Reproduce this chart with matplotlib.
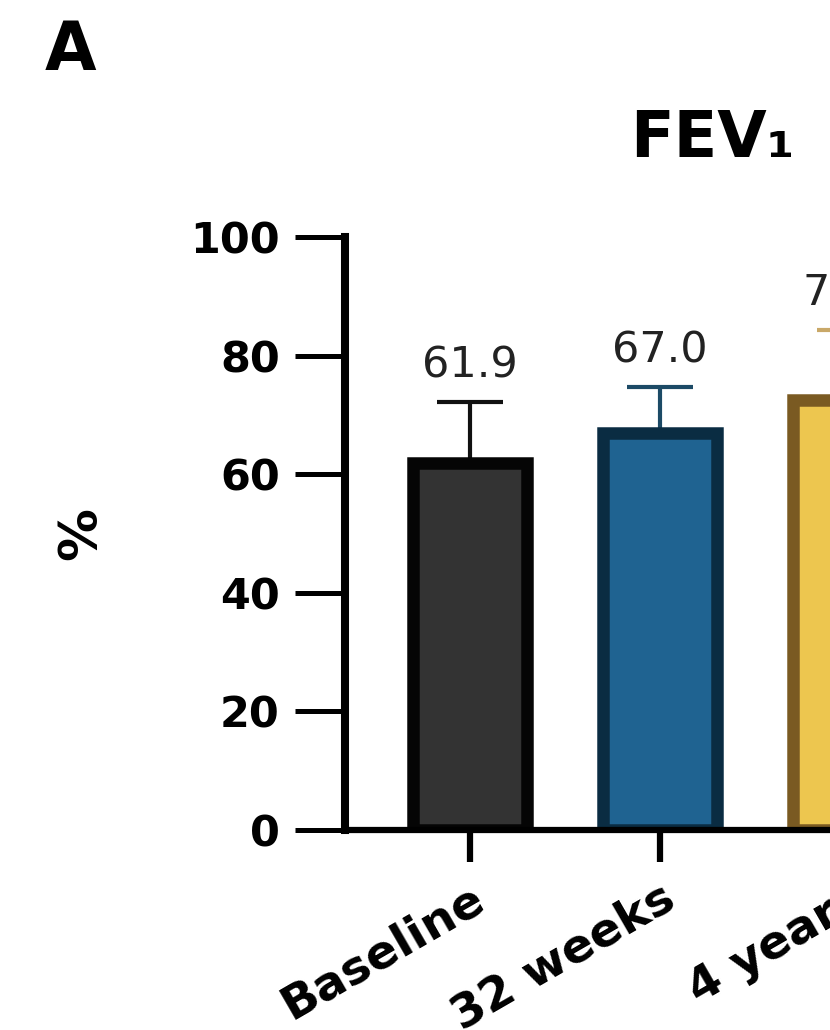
import matplotlib
matplotlib.use("Agg")
import matplotlib.pyplot as plt

plt.rcParams['font.family'] = ['DejaVu Sans']

# data
categories = ["Baseline", "32 weeks", "4 years"]
means = [61.9, 67.0, 72.5]
sd_upper = [10.3, 7.7, 11.8]
value_labels = ["61.9", "67.0", "72.5"]
yticks = [0, 20, 40, 60, 80, 100]

fills = ["#333333", "#1f6391", "#edc64f"]
edges = ["#050505", "#0a2c42", "#7a5a22"]
err_cols = ["#111111", "#1c4a66", "#c9a868"]

fig = plt.figure(figsize=(8.3, 10.3), dpi=100)
ax = fig.add_axes([345 / 830, 200 / 1030, 676 / 830, 593 / 1030])

x = list(range(len(categories)))
for i in x:
    ax.errorbar(i, means[i], yerr=[[0], [sd_upper[i]]], fmt="none",
                ecolor=err_cols[i], elinewidth=3, capsize=24, capthick=3, zorder=1)
    ax.bar(i, means[i], width=0.6, color=fills[i], edgecolor=edges[i],
           linewidth=9, zorder=2)
    ax.annotate(value_labels[i], (i, means[i] + sd_upper[i]), xytext=(0, 26),
                textcoords="offset points", ha="center", va="center",
                fontsize=31, color="#222222")

ax.set_xlim(-0.658, 2.9)
ax.set_ylim(0, 100)
ax.set_yticks(yticks)
ax.set_yticklabels([str(t) for t in yticks], fontsize=31, fontweight="bold")
ax.set_xticks(x)
ax.set_xticklabels(categories, fontsize=34, fontweight="bold", rotation=30,
                   ha="right", rotation_mode="anchor")

for s in ["top", "right"]:
    ax.spines[s].set_visible(False)
ax.spines["left"].set_linewidth(5.8)
ax.spines["bottom"].set_linewidth(4.5)
ax.tick_params(axis="y", length=36, width=3.6, pad=11)
ax.tick_params(axis="x", length=23, width=4.5, pad=10)

ax.set_ylabel("%", fontsize=38, fontweight="bold", labelpad=60)

fig.text(45 / 830, 1 - 70 / 1030, "A", fontsize=48, fontweight="bold",
         ha="left", va="baseline")
fig.text(630 / 830, 1 - 157 / 1030, "FEV\u2081", fontsize=46, fontweight="bold",
         ha="left", va="baseline")

fig.savefig("out.png", dpi=100)
